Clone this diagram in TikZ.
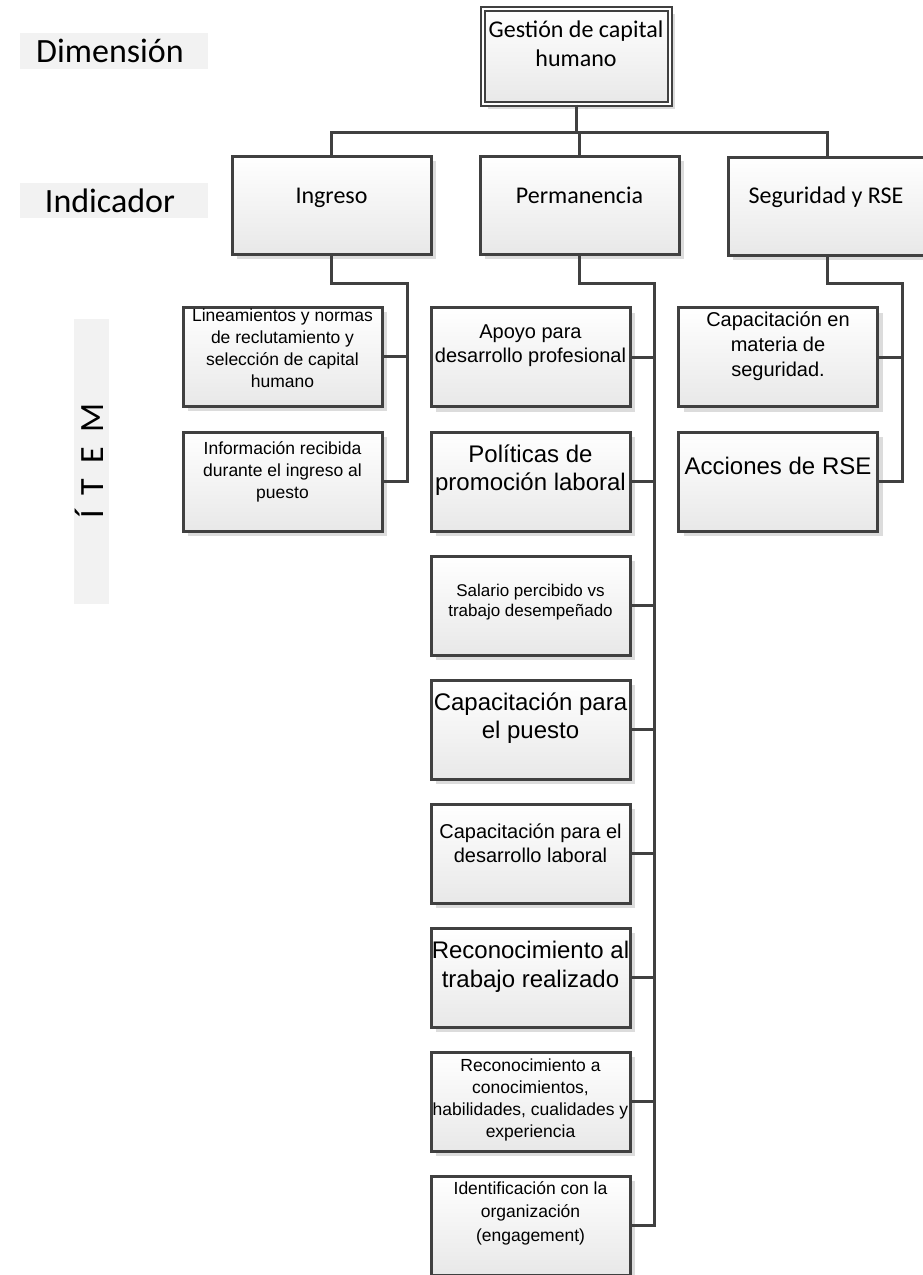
\documentclass[tikz,border=0pt]{standalone}
\usepackage{fontspec}
\setmainfont{Liberation Sans}
\newfontfamily\calfont{Carlito}
\usetikzlibrary{shadows,calc}
\definecolor{ln}{HTML}{404040}
\definecolor{lbl}{HTML}{F2F2F2}
\definecolor{shd}{HTML}{DCDCDC}
\definecolor{grad}{HTML}{E8E8E8}
\tikzset{
  boxbase/.style={rectangle, draw=ln, line width=3pt, top color=white, bottom color=grad,
     drop shadow={shadow xshift=5pt, shadow yshift=-5pt, fill=shd, opacity=1}, inner sep=0pt},
  itembox/.style={boxbase, minimum width=199pt, minimum height=99pt},
  indbox/.style={boxbase, minimum width=199pt, minimum height=98pt},
  topbox/.style={rectangle, draw=ln, double=white, double distance=2pt, line width=2pt,
     top color=white, bottom color=grad, minimum width=187pt, minimum height=95pt, inner sep=0pt,
     drop shadow={shadow xshift=5pt, shadow yshift=-5pt, fill=shd, opacity=1}},
  conn/.style={draw=ln, line width=3pt},
  lab/.style={fill=lbl, inner sep=0pt},
  caltxt/.style={font=\calfont\fontsize{24}{29}\selectfont, align=center, inner sep=0pt},
  tA/.style={font=\fontsize{24}{28.5}\selectfont, align=center, inner sep=0pt},
  tB/.style={font=\fontsize{20}{24}\selectfont, align=center, inner sep=0pt},
  tC/.style={font=\fontsize{17.5}{22}\selectfont, align=center, inner sep=0pt},
  tD/.style={font=\fontsize{17}{20.5}\selectfont, align=center, inner sep=0pt},
}
\begin{document}
\begin{tikzpicture}[x=1pt,y=-1pt]
\useasboundingbox (0,0) rectangle (922,1275);
% left labels
\node[lab, minimum width=188pt, minimum height=36pt] (dimbg) at (114,51) {};
\node[font=\calfont\fontsize{34}{40}\selectfont, inner sep=0pt] (dim) at (110,51) {Dimensión};
\node[lab, minimum width=188pt, minimum height=35pt] (indbg) at (114,200.5) {};
\node[font=\calfont\fontsize{34}{40}\selectfont, inner sep=0pt] (ind) at (110,200.5) {Indicador};
\node[lab, minimum width=35pt, minimum height=285pt] (itbg) at (91.5,461.5) {};
\node[font=\calfont\fontsize{34}{40}\selectfont, inner sep=0pt, rotate=90] (item) at (89,461) {Í\hspace{15pt}T\hspace{15pt}E\hspace{15pt}M};

% top
\node[topbox] (top) at (576,56) {};
\node[caltxt] at (576,44) {Gestión de capital\\humano};

% indicators
\node[indbox] (ing) at (331.5,205) {};
\node[caltxt, anchor=base] at (331.5,203.5) {Ingreso};
\node[indbox] (perm) at (579.5,205) {};
\node[caltxt, anchor=base] at (579.5,203.5) {Permanencia};
\node[indbox] (seg) at (827.5,206) {};
\node[caltxt, anchor=base] at (826,203.5) {Seguridad y RSE};

% Ingreso items
\node[itembox] (lin) at (282.5,356.5) {};
\node[tC] at (282.5,348) {Lineamientos y normas\\de reclutamiento y\\selección de capital\\humano};
\node[itembox] (inf) at (282.5,481.5) {};
\node[tC] at (282.5,472) {Información recibida\\durante el ingreso al\\puesto};

% Permanencia items
\node[itembox] (p1) at (530.5,357) {};
\node[tB] at (530.5,346) {Apoyo para\\desarrollo profesional};
\node[itembox] (p2) at (530.5,481.5) {};
\node[tA] at (530.5,470) {Políticas de\\promoción laboral};
\node[itembox] (p3) at (530.5,605.5) {};
\node[tD] at (530.5,602) {Salario percibido vs\\trabajo desempeñado};
\node[itembox] (p4) at (530.5,729.5) {};
\node[tA] at (530.5,718) {Capacitación para\\el puesto};
\node[itembox] (p5) at (530.5,853.5) {};
\node[tB] at (530.5,843) {Capacitación para el\\desarrollo laboral};
\node[itembox] (p6) at (530.5,977.5) {};
\node[tA] at (530.5,967) {Reconocimiento al\\trabajo realizado};
\node[itembox] (p7) at (530.5,1101.5) {};
\node[tC] at (530.5,1100) {Reconocimiento a\\conocimientos,\\habilidades, cualidades y\\experiencia};
\node[itembox] (p8) at (530.5,1225.5) {};
\node[tC, font=\fontsize{17.5}{23.5}\selectfont] at (530.5,1213) {Identificación con la\\organización\\(engagement)};

% Seguridad items
\node[itembox] (s1) at (778,357) {};
\node[tB, font=\fontsize{20}{25}\selectfont] at (778,346) {Capacitación en\\materia de\\seguridad.};
\node[itembox] (s2) at (778,481.5) {};
\node[tA] at (778,466) {Acciones de RSE};

% connectors
\coordinate (bus) at (0,132);
\draw[conn] (top.south) -- (top.south |- bus);
\draw[conn] (ing.north) -- (ing.north |- bus) -- (seg.north |- bus) -- (seg.north);
\draw[conn] (perm.north) -- (perm.north |- bus);

\coordinate (ingv) at (407,283);
\draw[conn] (ing.south) |- (ingv) -- (ingv |- inf.east) -- (inf.east);
\draw[conn] (lin.east) -- (lin.east -| ingv);

\coordinate (permv) at (654,283);
\draw[conn] (perm.south) |- (permv) -- (permv |- p8.east) -- (p8.east);
\foreach \n in {p1,p2,p3,p4,p5,p6,p7}{\draw[conn] (\n.east) -- (\n.east -| permv);}

\coordinate (segv) at (902,283);
\draw[conn] (seg.south) |- (segv) -- (segv |- s2.east) -- (s2.east);
\draw[conn] (s1.east) -- (s1.east -| segv);
\end{tikzpicture}
\end{document}
